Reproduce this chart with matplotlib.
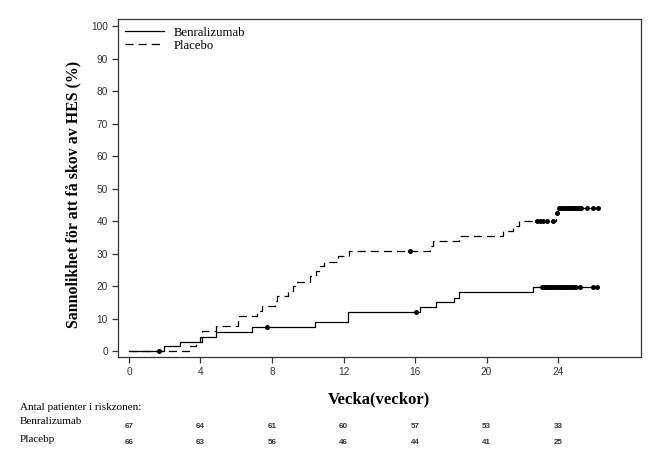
import numpy as np
import matplotlib
matplotlib.use('Agg')
import matplotlib.pyplot as plt

# Kaplan-Meier-liknande kurvor (kumulativ sannolikhet i %)
benra_t = [0, 1.96, 2.85, 4.0, 4.85, 6.86, 10.4, 12.27, 16.28, 17.16,
           18.18, 18.46, 22.62, 26.2]
benra_y = [0, 1.5, 3.0, 4.5, 6.0, 7.5, 9.0, 12.1, 13.7, 15.2,
           16.5, 18.3, 19.8, 19.8]
benra_cens = [1.7, 7.7, 16.04, 23.1, 23.2, 23.3, 23.4, 23.5, 23.6, 23.7,
              23.8, 23.9, 24.0, 24.1, 24.2, 24.3, 24.4, 24.5, 24.6, 24.7,
              24.8, 24.9, 25.0, 25.2, 25.95, 26.2]

plac_t = [0, 3.37, 3.73, 4.07, 4.85, 6.12, 7.14, 7.46, 8.17, 8.3, 8.88,
          9.16, 9.38, 10.13, 10.46, 10.7, 10.9, 11.7, 12.3, 16.84, 17.0,
          18.46, 20.9, 21.5, 21.8, 23.9, 23.98, 26.25]
plac_y = [0, 1.5, 3.0, 6.2, 7.7, 10.8, 12.4, 13.8, 15.4, 16.9, 18.5,
          20.0, 21.4, 23.1, 24.7, 26.2, 27.5, 29.2, 30.8, 32.3, 33.8,
          35.4, 36.9, 38.5, 40.1, 42.4, 44.2, 44.2]
plac_cens = [15.74, 22.84, 23.0, 23.18, 23.37, 23.74, 23.92, 24.05, 24.15,
             24.25, 24.35, 24.45, 24.55, 24.65, 24.75, 24.85, 24.95, 25.05,
             25.15, 25.3, 25.6, 25.95, 26.25]

risk_weeks = [0, 4, 8, 12, 16, 20, 24]
risk_benra = [67, 64, 61, 60, 57, 53, 33]
risk_plac = [66, 63, 56, 46, 44, 41, 25]

serif = 'Liberation Serif'
sans = 'Liberation Sans'


def step_value(t, y, x):
    idx = np.searchsorted(t, x, side='right') - 1
    return np.asarray(y)[idx]


fig = plt.figure(figsize=(6.71, 4.54), dpi=100)
ax = fig.add_axes([0.1754, 0.2130, 0.7799, 0.7451])

ax.step(benra_t, benra_y, where='post', color='black', lw=0.9,
        label='Benralizumab')
ax.step(plac_t, plac_y, where='post', color='black', lw=0.9,
        linestyle=(0, (6.5, 4)), label='Placebo')
ax.plot(benra_cens, step_value(benra_t, benra_y, benra_cens), 'o',
        color='black', ms=3.6, mew=0)
ax.plot(plac_cens, step_value(plac_t, plac_y, plac_cens), 'o',
        color='black', ms=3.6, mew=0)

ax.set_xlim(-0.63, 28.64)
ax.set_ylim(-1.85, 102.2)
ax.set_xticks(risk_weeks)
ax.set_yticks(range(0, 101, 10))
ax.tick_params(direction='out', length=4, width=0.9, color='#333333',
               labelsize=7.3, labelcolor='#333333', pad=3)
for lab in ax.get_xticklabels() + ax.get_yticklabels():
    lab.set_family(sans)
for sp in ax.spines.values():
    sp.set_linewidth(0.9)
    sp.set_color('#333333')

ax.set_ylabel('Sannolikhet för att få skov av HES (%)', family=serif,
              fontweight='bold', fontsize=11.4, labelpad=7)
ax.yaxis.label.set_y(0.481)
ax.set_xlabel('Vecka(veckor)', family=serif, fontweight='bold',
              fontsize=12, labelpad=10)

leg = ax.legend(loc='upper left', frameon=False, handlelength=3.0,
                borderaxespad=0.2, labelspacing=0.1, handletextpad=0.8,
                prop={'family': serif, 'size': 9.2})

# Riskzon-tabell
fig.text(20 / 671, 1 - 408 / 454, 'Antal patienter i riskzonen:',
         family=serif, fontsize=8, va='center', ha='left')
fig.text(20 / 671, 1 - 421 / 454, 'Benralizumab', family=serif,
         fontsize=8, va='center', ha='left')
fig.text(20 / 671, 1 - 439 / 454, 'Placebp', family=serif,
         fontsize=8, va='center', ha='left')
trans = matplotlib.transforms.blended_transform_factory(ax.transData,
                                                        fig.transFigure)
for w, nb, npl in zip(risk_weeks, risk_benra, risk_plac):
    ax.text(w, 1 - 427 / 454, str(nb), transform=trans, family=sans,
            fontweight='bold', fontsize=5.8, ha='center', va='center',
            color='#333333')
    ax.text(w, 1 - 442 / 454, str(npl), transform=trans, family=sans,
            fontweight='bold', fontsize=5.8, ha='center', va='center',
            color='#333333')

fig.savefig('out.png', dpi=100)
